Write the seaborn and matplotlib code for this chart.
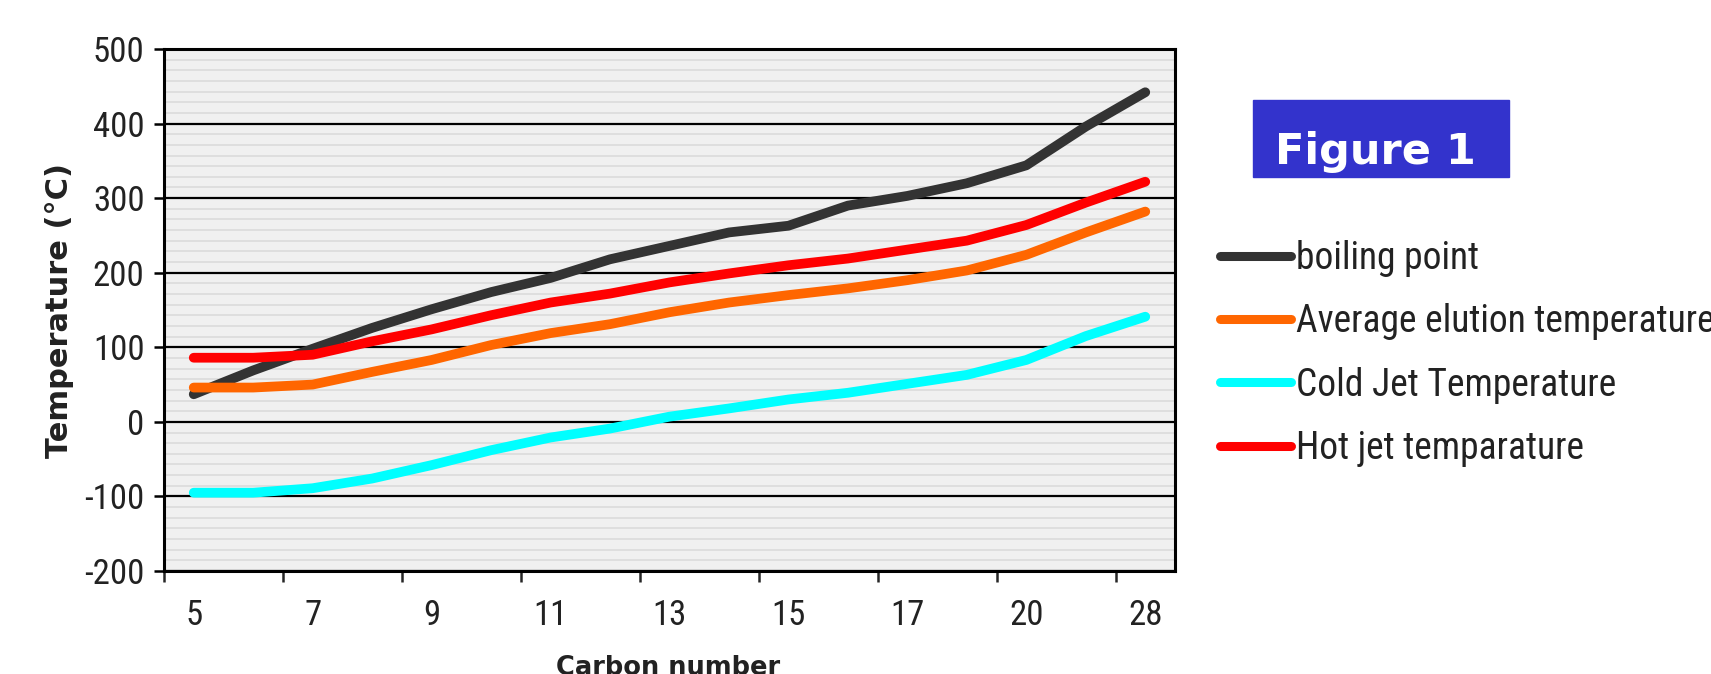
import matplotlib
matplotlib.use("Agg")
import matplotlib.pyplot as plt
from matplotlib.ticker import MultipleLocator, FixedLocator
import seaborn as sns
import numpy as np
import pandas as pd

# values
carbon = [5, 6, 7, 8, 9, 10, 11, 12, 13, 14, 15, 16, 17, 18, 20, 24, 28]
boiling = [37, 69, 98, 126, 151, 174, 193, 218, 236, 254, 263, 290, 303, 320, 344, 396, 442]
elution = [46, 46, 50, 67, 83, 103, 119, 131, 147, 160, 170, 179, 190, 203, 224, 254, 282]
cold_jet = [-95, -95, -89, -76, -58, -38, -21, -9, 7, 18, 30, 39, 51, 63, 83, 115, 141]
hot_jet = [86, 86, 90, 108, 124, 143, 160, 172, 187, 199, 210, 219, 231, 243, 264, 294, 322]

series_names = ["boiling point", "Average elution temperature",
                "Cold Jet Temperature", "Hot jet temparature"]
series_colors = ["#333333", "#ff6600", "#00ffff", "#ff0000"]

pos = np.arange(len(carbon))
df = pd.concat([
    pd.DataFrame({"pos": pos, "temp": vals, "series": name})
    for name, vals in zip(series_names, [boiling, elution, cold_jet, hot_jet])
])

sns.set_style("white")
narrow = ["Roboto Condensed", "Archivo Narrow", "Liberation Sans Narrow", "DejaVu Sans"]
plt.rcParams["font.family"] = narrow
plt.rcParams["axes.unicode_minus"] = False

fig = plt.figure(figsize=(17.11, 6.74), dpi=100)
ax = fig.add_axes([164 / 1711, 1 - 571 / 674, 1011 / 1711, 522 / 674])
ax.set_facecolor("#f0f0f0")

sns.lineplot(data=df, x="pos", y="temp", hue="series", hue_order=series_names,
             palette=dict(zip(series_names, series_colors)), linewidth=7,
             sort=False, ax=ax, legend=False, zorder=5)

ax.set_xlim(-0.5, len(carbon) - 0.5)
ax.set_ylim(-200, 500)

# y axis: major black gridlines, light minor bands
ax.yaxis.set_major_locator(MultipleLocator(100))
ax.yaxis.set_minor_locator(MultipleLocator(100 / 7))
ax.grid(axis="y", which="major", color="black", linewidth=1.6, zorder=1)
ax.grid(axis="y", which="minor", color="#d9d9d9", linewidth=1.1, zorder=0)
ax.tick_params(axis="y", which="major", direction="out", length=7, width=1.8,
               labelsize=25, pad=7, left=True, colors="black", labelcolor="#222222")
ax.tick_params(axis="y", which="minor", length=0)

# x axis: ticks between category pairs, labels on every other category
ax.xaxis.set_major_locator(FixedLocator(np.arange(-0.5, len(carbon) - 1, 2)))
ax.xaxis.set_minor_locator(FixedLocator(pos[::2]))
ax.set_xticklabels([])
ax.set_xticklabels([str(c) for c in carbon[::2]], minor=True)
ax.tick_params(axis="x", which="major", direction="out", length=8, width=1.8,
               bottom=True)
ax.tick_params(axis="x", which="minor", length=0, labelsize=25, pad=20,
               labelcolor="#222222")

for sp in ax.spines.values():
    sp.set_visible(True)
    sp.set_color("black")
    sp.set_linewidth(2.2)
    sp.set_zorder(6)

ax.set_xlabel("")
ax.set_ylabel("Temperature (°C)", fontsize=22, fontweight="bold",
              family="DejaVu Sans", color="#222222")
ax.yaxis.set_label_coords(-0.089, 0.5)
fig.text(668 / 1711, 1 - 655 / 674, "Carbon number", fontsize=18.5, fontweight="bold",
         family="DejaVu Sans", color="#222222", ha="center", va="top")

# legend
handles = [plt.Line2D([], [], color=c, linewidth=6.5) for c in series_colors]
fig.legend(handles, series_names, loc="upper left",
           bbox_to_anchor=(1220 / 1711, 1 - 240 / 674), frameon=False, fontsize=27,
           handlelength=1.9, handletextpad=0.13, labelspacing=0.7,
           borderpad=0, borderaxespad=0, labelcolor="#222222")

# "Figure 1" badge
fig.patches.append(plt.Rectangle((1253 / 1711, 1 - 177 / 674), 256 / 1711, 77 / 674,
                                 transform=fig.transFigure, color="#3333cc"))
fig.text(1275 / 1711, 1 - 164 / 674, "Figure 1", fontsize=31, fontweight="bold",
         family="DejaVu Sans", color="white", va="baseline", ha="left")

fig.savefig("out.png", dpi=100)
